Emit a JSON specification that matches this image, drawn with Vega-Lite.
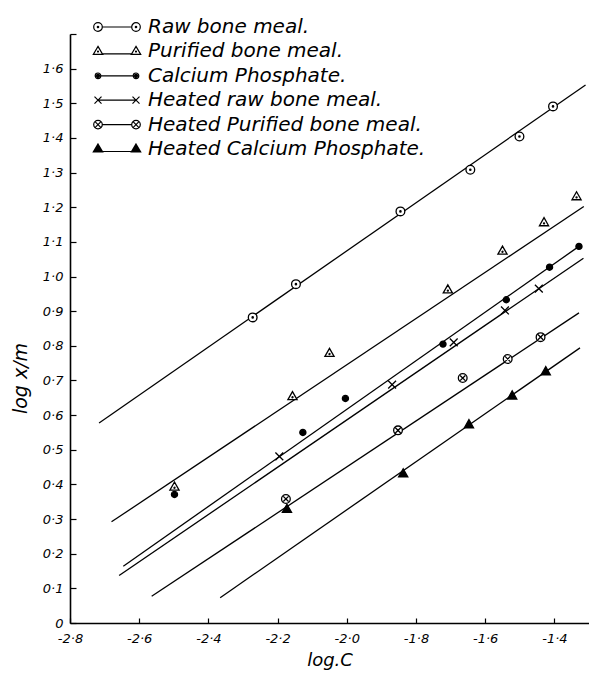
{
  "$schema": "https://vega.github.io/schema/vega-lite/v6.json",
  "width": 519,
  "height": 589,
  "autosize": {"type": "none"},
  "padding": {"left": 70, "top": 34, "right": 0, "bottom": 51},
  "background": "white",
  "config": {"view": {"stroke": null}, "font": "DejaVu Sans"},
  "datasets": {
    "points": [
      {"series": "Raw bone meal.", "x": -2.272, "y": 0.882},
      {"series": "Raw bone meal.", "x": -2.147, "y": 0.978},
      {"series": "Raw bone meal.", "x": -1.845, "y": 1.188},
      {"series": "Raw bone meal.", "x": -1.643, "y": 1.308},
      {"series": "Raw bone meal.", "x": -1.501, "y": 1.404},
      {"series": "Raw bone meal.", "x": -1.404, "y": 1.491},
      {"series": "Purified bone meal.", "x": -2.498, "y": 0.393},
      {"series": "Purified bone meal.", "x": -2.157, "y": 0.654},
      {"series": "Purified bone meal.", "x": -2.05, "y": 0.779},
      {"series": "Purified bone meal.", "x": -1.708, "y": 0.962},
      {"series": "Purified bone meal.", "x": -1.55, "y": 1.074},
      {"series": "Purified bone meal.", "x": -1.43, "y": 1.156},
      {"series": "Purified bone meal.", "x": -1.336, "y": 1.231},
      {"series": "Calcium Phosphate.", "x": -2.498, "y": 0.371},
      {"series": "Calcium Phosphate.", "x": -2.127, "y": 0.55},
      {"series": "Calcium Phosphate.", "x": -2.004, "y": 0.648},
      {"series": "Calcium Phosphate.", "x": -1.722, "y": 0.805},
      {"series": "Calcium Phosphate.", "x": -1.539, "y": 0.933},
      {"series": "Calcium Phosphate.", "x": -1.414, "y": 1.027},
      {"series": "Calcium Phosphate.", "x": -1.329, "y": 1.087},
      {"series": "Heated raw bone meal.", "x": -2.195, "y": 0.481},
      {"series": "Heated raw bone meal.", "x": -1.869, "y": 0.688},
      {"series": "Heated raw bone meal.", "x": -1.691, "y": 0.81},
      {"series": "Heated raw bone meal.", "x": -1.543, "y": 0.902},
      {"series": "Heated raw bone meal.", "x": -1.445, "y": 0.965},
      {"series": "Heated Purified bone meal.", "x": -2.176, "y": 0.358},
      {"series": "Heated Purified bone meal.", "x": -1.852, "y": 0.556},
      {"series": "Heated Purified bone meal.", "x": -1.665, "y": 0.707},
      {"series": "Heated Purified bone meal.", "x": -1.535, "y": 0.762},
      {"series": "Heated Purified bone meal.", "x": -1.44, "y": 0.825},
      {"series": "Heated Calcium Phosphate.", "x": -2.173, "y": 0.329},
      {"series": "Heated Calcium Phosphate.", "x": -1.837, "y": 0.431},
      {"series": "Heated Calcium Phosphate.", "x": -1.647, "y": 0.573},
      {"series": "Heated Calcium Phosphate.", "x": -1.522, "y": 0.656},
      {"series": "Heated Calcium Phosphate.", "x": -1.425, "y": 0.726}
    ],
    "fits": [
      {"series": "Raw bone meal.", "x": -2.716, "y": 0.577},
      {"series": "Raw bone meal.", "x": -1.31, "y": 1.553},
      {"series": "Purified bone meal.", "x": -2.68, "y": 0.292},
      {"series": "Purified bone meal.", "x": -1.315, "y": 1.202},
      {"series": "Calcium Phosphate.", "x": -2.646, "y": 0.164},
      {"series": "Calcium Phosphate.", "x": -1.329, "y": 1.087},
      {"series": "Heated raw bone meal.", "x": -2.658, "y": 0.137},
      {"series": "Heated raw bone meal.", "x": -1.316, "y": 1.053},
      {"series": "Heated Purified bone meal.", "x": -2.564, "y": 0.077},
      {"series": "Heated Purified bone meal.", "x": -1.329, "y": 0.895},
      {"series": "Heated Calcium Phosphate.", "x": -2.366, "y": 0.073},
      {"series": "Heated Calcium Phosphate.", "x": -1.326, "y": 0.794}
    ]
  },
  "resolve": {"scale": {"shape": "independent"}, "legend": {"shape": "independent"}},
  "encoding": {
    "x": {
      "field": "x", "type": "quantitative",
      "scale": {"domain": [-2.8, -1.3], "nice": false, "zero": false},
      "axis": {
        "values": [-2.8, -2.6, -2.4, -2.2, -2.0, -1.8, -1.6, -1.4],
        "labelExpr": "'-' + replace(format(abs(datum.value), '.1f'), '.', '·')",
        "grid": false,
        "domainColor": "black", "domainWidth": 1.6,
        "tickColor": "black", "tickWidth": 1.2, "tickSize": -5,
        "labelPadding": 14, "labelFontSize": 13, "labelFontStyle": "italic", "labelColor": "black",
        "labelFlush": false, "labelOverlap": false,
        "title": "log.C", "titleFontSize": 18, "titleFontStyle": "italic", "titleFontWeight": "normal",
        "titleColor": "black", "titleBaseline": "alphabetic", "titleY": 42
      }
    },
    "y": {
      "field": "y", "type": "quantitative",
      "scale": {"domain": [0, 1.7], "nice": false, "zero": false},
      "axis": {
        "values": [0, 0.1, 0.2, 0.3, 0.4, 0.5, 0.6, 0.7, 0.8, 0.9, 1.0, 1.1, 1.2, 1.3, 1.4, 1.5, 1.6, 1.7],
        "labelExpr": "datum.value == 0 ? '0' : (datum.value > 1.65 ? '' : replace(format(datum.value, '.1f'), '.', '·'))",
        "grid": false,
        "domainColor": "black", "domainWidth": 1.6,
        "tickColor": "black", "tickWidth": 1.2, "tickSize": -6,
        "labelPadding": 13, "labelFontSize": 13, "labelFontStyle": "italic", "labelColor": "black",
        "labelFlush": false, "labelOverlap": false,
        "title": "log x/m", "titleFontSize": 19, "titleFontStyle": "italic", "titleFontWeight": "normal",
        "titleColor": "black", "titleAngle": 270, "titleAlign": "center", "titleBaseline": "middle",
        "titleX": -50, "titleY": 344
      }
    }
  },
  "layer": [
    {
      "data": {"name": "fits"},
      "mark": {"type": "line", "stroke": "black", "strokeWidth": 1.3},
      "encoding": {
        "detail": {"field": "series"}
      }
    },
    {
      "data": {"name": "points"},
      "mark": {"type": "point", "filled": true, "stroke": "black", "strokeWidth": 1.3, "size": 76, "opacity": 1},
      "encoding": {
        "fill": {
          "field": "series", "type": "nominal",
          "scale": {
            "domain": ["Raw bone meal.", "Purified bone meal.", "Calcium Phosphate.", "Heated raw bone meal.", "Heated Purified bone meal.", "Heated Calcium Phosphate."],
            "range": ["white", "white", "black", "white", "white", "black"]
          },
          "legend": null
        },
        "shape": {
          "field": "series", "type": "nominal",
          "scale": {
            "domain": ["Raw bone meal.", "Purified bone meal.", "Calcium Phosphate.", "Heated raw bone meal.", "Heated Purified bone meal.", "Heated Calcium Phosphate."],
            "range": [
              "M-1,0A1,1,0,1,0,1,0A1,1,0,1,0,-1,0ZM-0.15,0A0.15,0.15,0,1,0,0.15,0A0.15,0.15,0,1,0,-0.15,0Z",
              "M0,-1.1L1.05,0.75L-1.05,0.75ZM-0.12,0.2A0.12,0.12,0,1,0,0.12,0.2A0.12,0.12,0,1,0,-0.12,0.2Z",
              "M-0.7,0A0.7,0.7,0,1,0,0.7,0A0.7,0.7,0,1,0,-0.7,0Z",
              "M-0.9,-0.9L0.9,0.9M-0.9,0.9L0.9,-0.9",
              "M-1,0A1,1,0,1,0,1,0A1,1,0,1,0,-1,0ZM-0.6,-0.6L0.6,0.6M-0.6,0.6L0.6,-0.6",
              "M0,-1.1L1.05,0.75L-1.05,0.75Z"
            ]
          },
          "legend": null
        }
      }
    },
    {
      "data": {"name": "points"},
      "mark": {"type": "point", "filled": false, "stroke": "black", "strokeWidth": 1.2, "size": 0, "opacity": 1},
      "encoding": {
        "shape": {
          "field": "series", "type": "nominal",
          "scale": {
            "domain": ["Raw bone meal.", "Purified bone meal.", "Calcium Phosphate.", "Heated raw bone meal.", "Heated Purified bone meal.", "Heated Calcium Phosphate."],
            "range": [
              "M-2.33,0A0.43,0.43,0,1,0,-1.47,0A0.43,0.43,0,1,0,-2.33,0ZM-1.97,0A0.07,0.07,0,1,0,-1.83,0A0.07,0.07,0,1,0,-1.97,0ZM-1.47,0L1.47,0M1.47,0A0.43,0.43,0,1,0,2.33,0A0.43,0.43,0,1,0,1.47,0ZM1.83,0A0.07,0.07,0,1,0,1.97,0A0.07,0.07,0,1,0,1.83,0Z",
              "M-1.9,-0.5L-1.43,0.3L-2.37,0.3ZM-1.95,0.02A0.05,0.05,0,1,0,-1.85,0.02A0.05,0.05,0,1,0,-1.95,0.02ZM-1.5,0.25L1.5,0.25M1.9,-0.5L2.37,0.3L1.43,0.3ZM1.85,0.02A0.05,0.05,0,1,0,1.95,0.02A0.05,0.05,0,1,0,1.85,0.02Z",
              "M-2.18,0A0.28,0.28,0,1,0,-1.62,0A0.28,0.28,0,1,0,-2.18,0ZM-2.05,0A0.15,0.15,0,1,0,-1.75,0A0.15,0.15,0,1,0,-2.05,0ZM-1.95,0A0.05,0.05,0,1,0,-1.85,0A0.05,0.05,0,1,0,-1.95,0ZM-1.62,0L1.62,0M1.62,0A0.28,0.28,0,1,0,2.18,0A0.28,0.28,0,1,0,1.62,0ZM1.75,0A0.15,0.15,0,1,0,2.05,0A0.15,0.15,0,1,0,1.75,0ZM1.85,0A0.05,0.05,0,1,0,1.95,0A0.05,0.05,0,1,0,1.85,0Z",
              "M-2.25,-0.35L-1.55,0.35M-2.25,0.35L-1.55,-0.35M-1.9,0L1.9,0M1.55,-0.35L2.25,0.35M1.55,0.35L2.25,-0.35",
              "M-2.33,0A0.43,0.43,0,1,0,-1.47,0A0.43,0.43,0,1,0,-2.33,0ZM-2.17,-0.27L-1.63,0.27M-2.17,0.27L-1.63,-0.27M-1.47,0L1.47,0M1.47,0A0.43,0.43,0,1,0,2.33,0A0.43,0.43,0,1,0,1.47,0ZM1.63,-0.27L2.17,0.27M1.63,0.27L2.17,-0.27",
              "M-1.9,-0.5L-1.43,0.3L-2.37,0.3ZM-1.9,-0.35L-1.56,0.22L-2.24,0.22ZM-1.9,-0.2L-1.69,0.15L-2.11,0.15ZM-1.9,-0.06L-1.82,0.09L-1.98,0.09ZM-1.5,0.25L1.5,0.25M1.9,-0.5L2.37,0.3L1.43,0.3ZM1.9,-0.35L2.24,0.22L1.56,0.22ZM1.9,-0.2L2.11,0.15L1.69,0.15ZM1.9,-0.06L1.98,0.09L1.82,0.09Z"
            ]
          },
          "legend": {
            "title": null,
            "orient": "none",
            "legendX": 36,
            "legendY": -18,
            "symbolSize": 400,
            "labelOffset": 20,
            "rowPadding": 3.4,
            "symbolStrokeColor": "black",
            "symbolStrokeWidth": 1.2,
            "symbolOpacity": 1,
            "labelFontSize": 20,
            "labelFontStyle": "italic",
            "labelColor": "black",
            "labelLimit": 400
          }
        }
      }
    }
  ]
}
